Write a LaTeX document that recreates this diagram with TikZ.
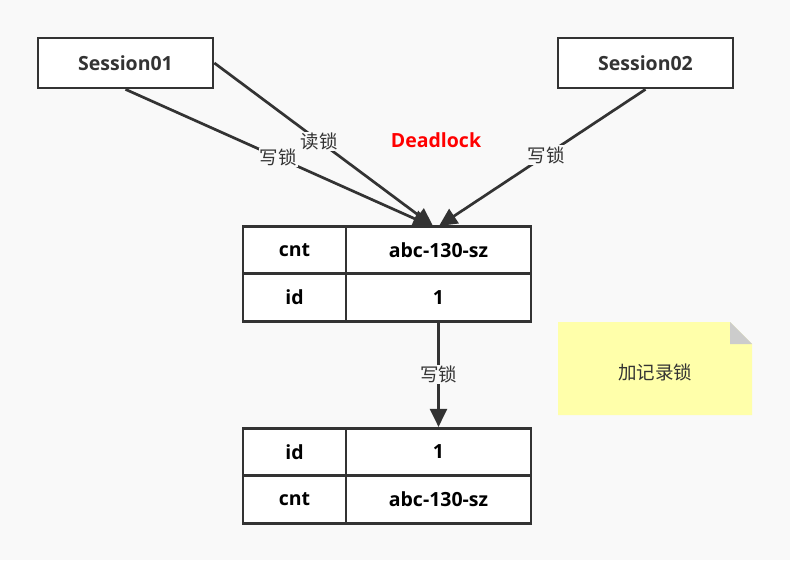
\documentclass[tikz,border=0pt]{standalone}
\usepackage{fontspec}
\setmainfont{Open Sans}
\newfontfamily\cjk{Noto Sans CJK SC}
\usetikzlibrary{arrows.meta}
\definecolor{bg}{HTML}{F9F9F9}
\definecolor{ln}{HTML}{333333}
\definecolor{notey}{HTML}{FFFFAA}
\definecolor{fold}{HTML}{CCCCCC}
\begin{document}
\begin{tikzpicture}[x=1pt,y=-1pt,
  box/.style={draw=ln,line width=2.7pt,fill=white,minimum width=175pt,minimum height=50pt,inner sep=0pt,font=\fontsize{19.5}{19.5}\selectfont\bfseries,text=ln},
  cell/.style={draw=ln,line width=2.7pt,fill=white,minimum height=47.5pt,inner sep=0pt,font=\fontsize{19.5}{19.5}\selectfont\bfseries,text=black},
  arr/.style={draw=ln,line width=2.7pt,-{Triangle[length=18pt,width=17pt]}},
  lab/.style={fill=bg,inner sep=1pt,font=\cjk\fontsize{18.5}{18.5}\selectfont,text=ln}]
\fill[bg] (0,0) rectangle (790,560);
\useasboundingbox (0,0) rectangle (790,560);
\node[box] (s1) at (125.5,63) {Session01};
\node[box] (s2) at (645.5,63) {Session02};
% table 1
\node[cell,minimum width=103pt] (t1a) at (294.5,250) {cnt};
\node[cell,minimum width=185pt] (t1b) at (438.5,250) {abc-130-sz};
\node[cell,minimum width=103pt] (t1c) at (294.5,297.5) {id};
\node[cell,minimum width=185pt] (t1d) at (438.5,297.5) {1};
% table 2
\node[cell,minimum width=103pt] (t2a) at (294.5,452) {id};
\node[cell,minimum width=185pt] (t2b) at (438.5,452) {1};
\node[cell,minimum width=103pt] (t2c) at (294.5,499.5) {cnt};
\node[cell,minimum width=185pt] (t2d) at (438.5,499.5) {abc-130-sz};
\coordinate (e1) at (431,226);
\coordinate (e2) at (433,226);
\coordinate (e3) at (439,226);
\draw[arr] (s1.south) -- node[lab,pos=0.5] {写锁} (e1);
\draw[arr] (s1.east) -- node[lab,pos=0.48] {读锁} (e2);
\draw[arr] (s2.south) -- node[lab,pos=0.48] {写锁} (e3);
\draw[arr] (t1d.south) -- node[lab,pos=0.5] {写锁} (t2b.north);
\node[font=\fontsize{19.5}{19.5}\selectfont\bfseries,text=red] (dl) at (436,140) {Deadlock};
% note
\fill[notey] (558,322) -- (730,322) -- (752,344) -- (752,415) -- (558,415) -- cycle;
\fill[fold] (730,322) -- (752,344) -- (730,344) -- cycle;
\node[font=\cjk\fontsize{18.5}{18.5}\selectfont,text=ln] (nt) at (655,372) {加记录锁};
\end{tikzpicture}
\end{document}
